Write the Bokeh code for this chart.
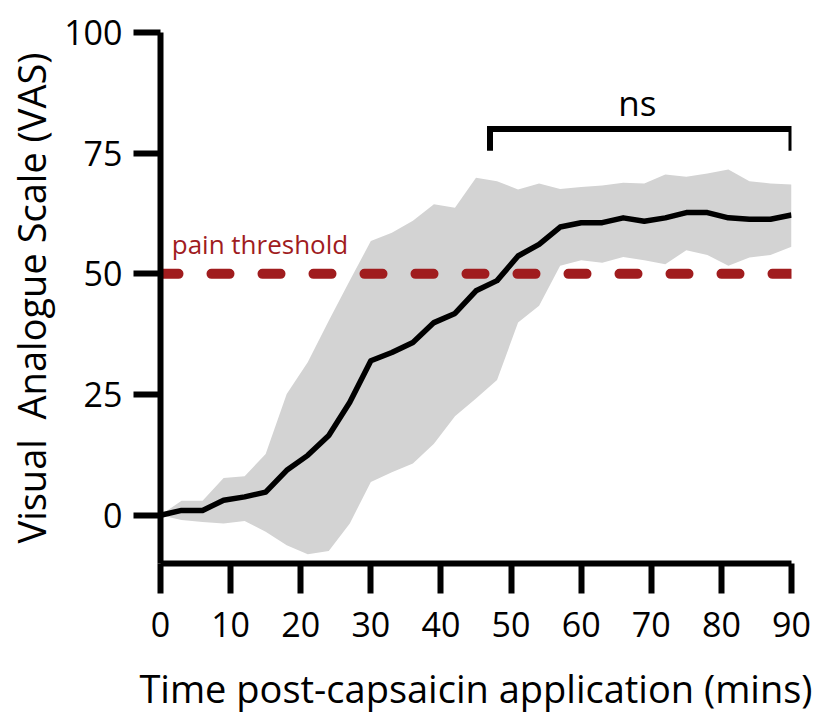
from bokeh.plotting import figure
from bokeh.models import Range1d, FixedTicker, Label
from bokeh.embed import file_html
from bokeh.resources import INLINE

# ---- data ----
time_min = [0, 3, 6, 9, 12, 15, 18, 21, 24, 27, 30, 33, 36, 39, 42, 45, 48, 51, 54, 57,
            60, 63, 66, 69, 72, 75, 78, 81, 84, 87, 90]
vas_mean = [0, 1.0, 1.0, 3.1, 3.8, 4.8, 9.3, 12.4, 16.5, 23.4, 32.0, 33.7, 35.8, 39.9, 41.8,
            46.5, 48.6, 53.7, 56.1, 59.7, 60.6, 60.6, 61.6, 60.9, 61.6, 62.7, 62.7, 61.6,
            61.3, 61.3, 62.2]
vas_upper = [0, 3.0, 3.0, 7.7, 8.1, 12.7, 25.1, 31.7, 40.3, 48.6, 56.8, 58.5, 61.0, 64.4, 63.7,
             69.9, 69.2, 67.5, 68.7, 67.6, 68.0, 68.3, 68.9, 68.7, 70.6, 70.1, 70.8, 71.6,
             69.2, 68.7, 68.5]
vas_lower = [0, -1.0, -1.4, -1.7, -1.2, -3.4, -6.2, -8.1, -7.4, -1.7, 6.9, 8.9, 10.7, 14.8, 20.5,
             24.2, 28.0, 39.9, 43.4, 51.7, 52.8, 52.3, 53.5, 52.8, 52.0, 54.9, 53.9, 51.7,
             53.4, 53.9, 55.6]
pain_threshold = 50
x_ticks = [0, 10, 20, 30, 40, 50, 60, 70, 80, 90]
y_ticks = [0, 25, 50, 75, 100]
bracket_x = [47, 47, 90, 90]
bracket_y = [75.5, 80, 80, 75.5]
bracket_label = "ns"

FONT = "Open Sans"
RED = "#a01c1e"

p = figure(width=827, height=720, output_backend="svg", toolbar_location=None,
           x_range=Range1d(0, 90), y_range=Range1d(-10, 100),
           min_border_left=160, min_border_right=36, min_border_top=32, min_border_bottom=157)
p.outline_line_color = None
p.xgrid.visible = False
p.ygrid.visible = False
p.background_fill_color = "white"

p.varea(x=time_min, y1=vas_lower, y2=vas_upper, fill_color="#d3d3d3")
p.line(x=[time_min[0], time_min[-1]], y=[pain_threshold, pain_threshold], line_color=RED,
       line_width=10, line_dash="18 33", line_cap="round")
p.line(x=time_min, y=vas_mean, line_color="black", line_width=5.5, line_join="round")
p.line(x=bracket_x, y=bracket_y, line_color="black", line_width=6, line_join="miter")

p.add_layout(Label(x=(bracket_x[1] + bracket_x[2]) / 2 - 0.5, y=bracket_y[1] + 5.5, text=bracket_label,
                   text_font=FONT, text_font_size="35px", text_align="center",
                   text_baseline="alphabetic", text_color="black"))
p.add_layout(Label(x=1.6, y=pain_threshold + 6.2, text="pain threshold", text_font=FONT,
                   text_font_size="26px", text_color=RED, text_baseline="alphabetic"))

for ax in (p.xaxis[0], p.yaxis[0]):
    ax.axis_line_width = 6
    ax.axis_line_color = "black"
    ax.major_tick_line_width = 6
    ax.major_tick_line_color = "black"
    ax.minor_tick_line_color = None
    ax.major_tick_in = 0
    ax.major_label_text_font = FONT
    ax.major_label_text_font_size = "34px"
    ax.major_label_text_color = "black"
    ax.axis_label_text_font = FONT
    ax.axis_label_text_font_size = "38px"
    ax.axis_label_text_font_style = "normal"
    ax.axis_label_text_color = "black"

p.xaxis[0].ticker = FixedTicker(ticks=x_ticks)
p.yaxis[0].ticker = FixedTicker(ticks=y_ticks)
p.xaxis[0].major_tick_out = 30
p.yaxis[0].major_tick_out = 27
p.xaxis[0].major_label_standoff = 18
p.yaxis[0].major_label_standoff = 11
p.xaxis[0].axis_label = "Time post-capsaicin application (mins)"
p.yaxis[0].axis_label = "Visual\u00a0 Analogue Scale (VAS)"
p.xaxis[0].axis_label_standoff = 22
p.yaxis[0].axis_label_standoff = 4

open("out.html", "w").write(file_html(p, INLINE))
